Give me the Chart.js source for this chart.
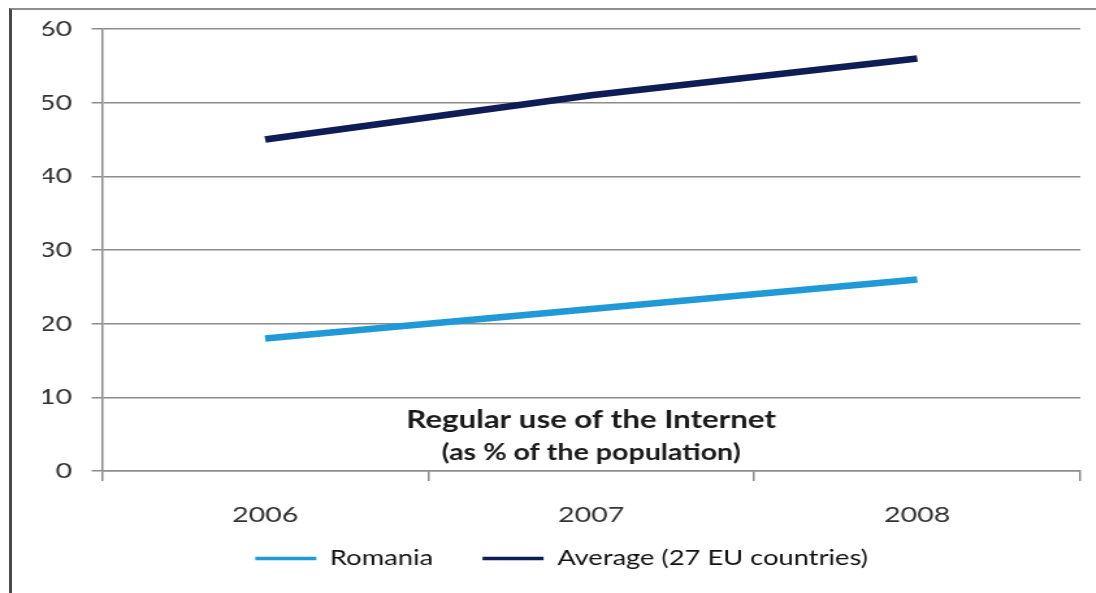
<!DOCTYPE html>
<html>
<head>
<meta charset="utf-8">
<script src="https://cdn.jsdelivr.net/npm/chart.js@4/dist/chart.umd.min.js"></script>
<style>
  html, body { margin: 0; padding: 0; background: #fff; }
  body { width: 1096px; height: 593px; overflow: hidden; position: relative; }
  /* the chart is laid out narrow and widened horizontally */
  #wrap { position: absolute; left: 0; top: 0; width: 843px; height: 593px;
          transform: scaleX(1.3); transform-origin: 0 0; }
  #frame { position: absolute; left: 9px; top: 8px; right: 0; bottom: 0;
           border-left: 3px solid #4a4a4a; border-top: 2px solid #8f8f8f;
           pointer-events: none; }
</style>
</head>
<body>
<div id="wrap"><canvas id="chart"></canvas></div>
<div id="frame"></div>
<script>
// Regular use of the Internet, % of population
const years = ['2006', '2007', '2008'];
const romania = [18, 22, 26];
const euAverage = [45, 51, 56];
const seriesNames = ['Romania', 'Average (27 EU countries)'];
const yMin = 0, yMax = 60, yStep = 10;
const captionTitle = 'Regular use of the Internet';
const captionSub = '(as % of the population)';

const FONT = "Lato, 'Open Sans', sans-serif";
const GRID = '#8c8c8c';

// Caption drawn inside the plot, under the lines
const captionPlugin = {
  id: 'caption',
  afterDatasetsDraw(chart) {
    const { ctx, chartArea } = chart;
    const cx = (chartArea.left + chartArea.right) / 2;
    ctx.save();
    ctx.textAlign = 'center';
    ctx.textBaseline = 'middle';
    ctx.fillStyle = '#1a1a1a';
    ctx.font = `bold 24px ${FONT}`;
    ctx.fillText(captionTitle, cx, chartArea.bottom - 51);
    ctx.font = `bold 22px ${FONT}`;
    ctx.fillText(captionSub, cx, chartArea.bottom - 18);
    ctx.restore();
  }
};

// Pull the legend row up closer to the year labels
const legendLift = {
  id: 'legendLift',
  afterLayout(chart) {
    const lg = chart.legend;
    if (lg) { lg.top -= 21; lg.bottom -= 21; }
  }
};

new Chart(document.getElementById('chart'), {
  type: 'line',
  data: {
    labels: years,
    datasets: [
      { label: seriesNames[0], data: romania, borderColor: '#1f9ad6', backgroundColor: '#1f9ad6',
        borderWidth: 6.5, pointRadius: 0, tension: 0, borderCapStyle: 'butt' },
      { label: seriesNames[1], data: euAverage, borderColor: '#0e1d55', backgroundColor: '#0e1d55',
        borderWidth: 6.5, pointRadius: 0, tension: 0, borderCapStyle: 'butt' }
    ]
  },
  options: {
    responsive: true,
    maintainAspectRatio: false,
    animation: false,
    layout: { padding: { left: 33, right: 12, top: 29, bottom: -7 } },
    scales: {
      x: {
        offset: true,
        grid: { offset: true, drawOnChartArea: false, tickLength: 10, color: GRID, lineWidth: 1.5 },
        border: { color: GRID, width: 1.5 },
        ticks: { padding: 21, color: '#333', font: { family: FONT, size: 22 } },
        afterFit(scale) { scale.height = 60; }
      },
      y: {
        min: yMin, max: yMax,
        ticks: { stepSize: yStep, padding: 15, color: '#333', font: { family: FONT, size: 22 } },
        grid: { color: GRID, lineWidth: 1.5, tickLength: 8 },
        border: { color: GRID, width: 1.5 },
        afterFit(scale) { scale.width = 45.5; }
      }
    },
    plugins: {
      legend: {
        position: 'bottom',
        labels: {
          usePointStyle: true,
          pointStyle: 'line',
          pointStyleWidth: 47,
          padding: 38,
          color: '#111',
          font: { family: FONT, size: 21 },
          generateLabels(chart) {
            return Chart.defaults.plugins.legend.labels.generateLabels(chart)
              .map(item => Object.assign(item, { lineWidth: 3.5 }));
          }
        }
      },
      tooltip: { enabled: false }
    }
  },
  plugins: [captionPlugin, legendLift]
});
</script>
</body>
</html>
